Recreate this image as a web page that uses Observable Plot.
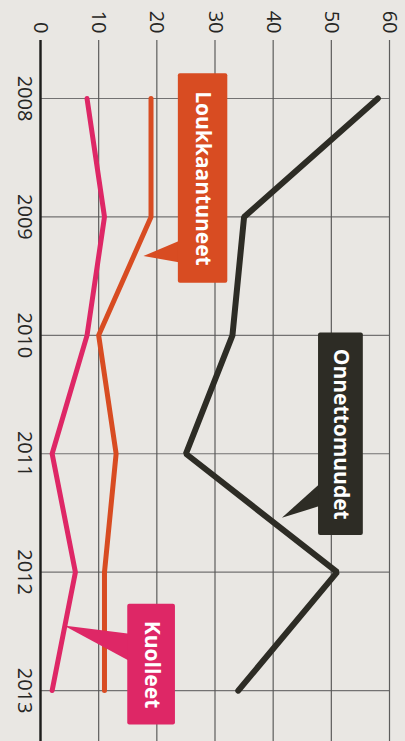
<!DOCTYPE html>
<html><head><meta charset="utf-8">
<script src="https://cdn.jsdelivr.net/npm/d3@7"></script>
<script src="https://cdn.jsdelivr.net/npm/@observablehq/plot@0.6"></script>
<style>
html,body{margin:0;padding:0;background:#e9e7e3;}
#chart{width:405px;height:741px;overflow:hidden;}
</style></head><body><div id="chart"></div>
<script>
const years = [2008, 2009, 2010, 2011, 2012, 2013];
const onnettomuudet = [58, 35, 33, 25, 51, 34];
const loukkaantuneet = [19, 19, 10, 13, 11, 11];
const kuolleet = [8, 11, 8, 2, 6, 2];
const valueTicks = [0, 10, 20, 30, 40, 50, 60];
const seriesNames = ["Onnettomuudet", "Loukkaantuneet", "Kuolleet"];
const seriesColors = ["#2d2c25", "#d84c22", "#de2766"];

const rows = [];
[onnettomuudet, loukkaantuneet, kuolleet].forEach((vals, i) =>
  vals.forEach((v, j) => rows.push({series: seriesNames[i], year: years[j], value: v})));

// callout boxes placed in data units (value, year)
const callouts = [
  {series: "Loukkaantuneet", x1: 23.7, x2: 32.2, y1: 2007.79, y2: 2009.56, tipX: 17.7, tipY: 2009.33, b1: 2009.20, b2: 2009.385},
  {series: "Onnettomuudet", x1: 47.8, x2: 55.5, y1: 2009.98, y2: 2011.69, tipX: 41.5, tipY: 2011.54, b1: 2011.25, b2: 2011.44},
  {series: "Kuolleet", x1: 15.0, x2: 23.2, y1: 2012.27, y2: 2013.29, tipX: 4.0, tipY: 2012.45, b1: 2012.52, b2: 2012.75}
];
const pointers = callouts.flatMap(c => [
  {series: c.series, x: c.tipX, y: c.tipY},
  {series: c.series, x: c.x1 + 0.3, y: c.b1},
  {series: c.series, x: c.x1 + 0.3, y: c.b2},
  {series: c.series, x: c.tipX, y: c.tipY}
]);
const colorOf = s => seriesColors[seriesNames.indexOf(s)];

const chart = Plot.plot({
  width: 405,
  height: 741,
  marginTop: 40,
  marginBottom: 0,
  marginLeft: 40,
  marginRight: 16,
  style: {fontFamily: "'Open Sans', sans-serif", background: "transparent", color: "#262624"},
  x: {domain: [0, 60]},
  y: {domain: [2007.51, 2013.43], reverse: true},
  marks: [
    Plot.ruleX(valueTicks, {stroke: "#444", strokeWidth: 1.2, strokeOpacity: 0.85}),
    Plot.ruleY(years, {x1: 0, x2: 60, stroke: "#555", strokeWidth: 1.2, strokeOpacity: 0.8}),
    Plot.ruleX([0], {stroke: "#1e1e1c", strokeWidth: 2.4}),
    Plot.axisX({anchor: "top", ticks: valueTicks, tickRotate: 90, tickSize: 0, tickPadding: 7, lineAnchor: "middle", fontSize: 20, label: null}),
    Plot.axisY({anchor: "left", ticks: years, tickFormat: d => String(d), tickRotate: 90, tickSize: 0, tickPadding: 8, fontSize: 20, label: null}),
    Plot.line(rows.filter(d => d.series === "Onnettomuudet"), {x: "value", y: "year", stroke: seriesColors[0], strokeWidth: 6, strokeLinecap: "round", strokeLinejoin: "miter"}),
    Plot.line(rows.filter(d => d.series === "Loukkaantuneet"), {x: "value", y: "year", stroke: seriesColors[1], strokeWidth: 5, strokeLinecap: "round", strokeLinejoin: "round"}),
    Plot.line(rows.filter(d => d.series === "Kuolleet"), {x: "value", y: "year", stroke: seriesColors[2], strokeWidth: 5, strokeLinecap: "round", strokeLinejoin: "round"}),
    ...callouts.map(c => Plot.line(pointers.filter(p => p.series === c.series), {x: "x", y: "y", fill: colorOf(c.series), stroke: "none"})),
    ...callouts.map(c => Plot.rect([c], {x1: "x1", x2: "x2", y1: "y1", y2: "y2", fill: colorOf(c.series), rx: 2})),
    Plot.text(callouts, {x: d => (d.x1 + d.x2) / 2, y: d => (d.y1 + d.y2) / 2, text: "series", rotate: 90, fill: "white", fontWeight: "bold", fontSize: 21})
  ]
});
document.getElementById("chart").appendChild(chart);
</script></body></html>
